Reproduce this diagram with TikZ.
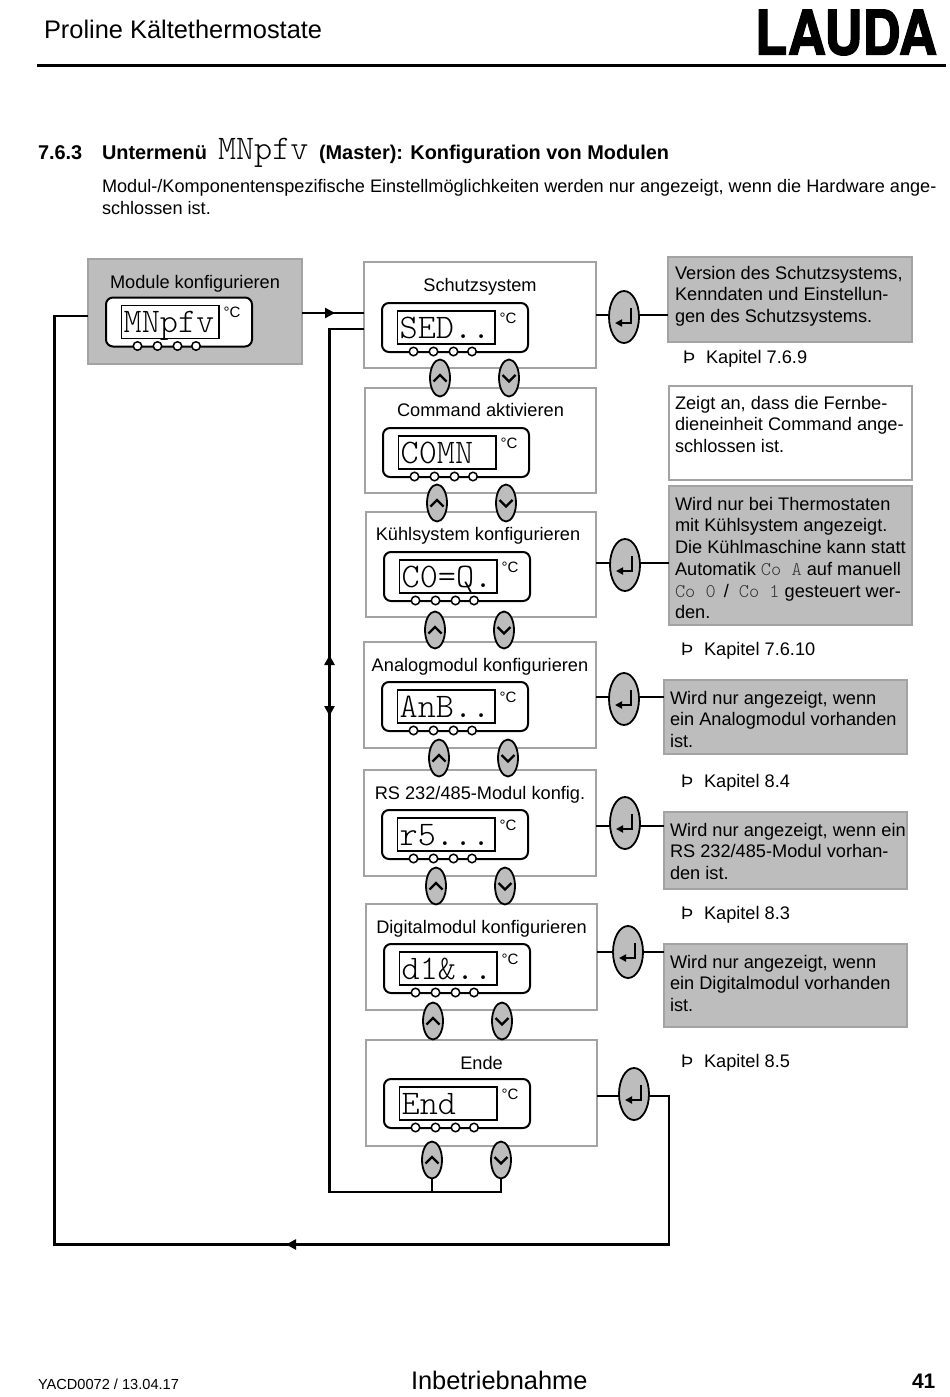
\documentclass[tikz,border=0pt]{standalone}
\usepackage{fontspec}
\setmainfont{Liberation Sans}
\usetikzlibrary{shapes.geometric,arrows.meta,calc}
\definecolor{panel}{HTML}{BDBDBD}
\definecolor{edge}{HTML}{A3A3A3}
\newfontfamily\logofont[FakeBold=2]{TeX Gyre Heros Bold}
\newfontfamily\lcdfamily{Latin Modern Mono Light}
\newcommand\bodyfont{\fontsize{18.2}{21.75}\selectfont}
\newcommand\headfont{\bfseries\fontsize{19.9}{20}\selectfont}
\newcommand\lcdfont{\fontsize{34.5}{35}\selectfont\lcdfamily}
\newcommand\lcdsmall[1]{{\fontsize{19.4}{20}\selectfont\lcdfamily\color{black!80}#1}}
\tikzset{
  txt/.style={inner sep=0pt,outer sep=0pt,anchor=base west,text=black,font=\bodyfont},
  notetxt/.style={inner sep=0pt,outer sep=0pt,anchor=north west,align=left,font=\bodyfont},
  titletxt/.style={inner sep=0pt,outer sep=0pt,anchor=base,font=\bodyfont},
  graybox/.style={draw=edge,fill=panel,line width=1.6pt,inner sep=0pt,outer sep=0pt},
  whitebox/.style={draw=edge,fill=white,line width=1.6pt,inner sep=0pt,outer sep=0pt},
  dispbox/.style={draw=black,fill=white,line width=2pt,rounded corners=7pt,inner sep=0pt,outer sep=0pt},
  lcdbox/.style={draw=black,line width=1.4pt,fill=white,inner sep=0pt,outer sep=0pt},
  led/.style={circle,draw=black,fill=white,line width=1.5pt,minimum size=8.5pt,inner sep=0pt},
  btn/.style={ellipse,draw=black,fill=panel,line width=1.8pt,minimum width=20pt,minimum height=37pt,inner sep=0pt,outer sep=0pt},
  enterbtn/.style={ellipse,draw=black,fill=panel,line width=1.8pt,minimum width=30pt,minimum height=52pt,inner sep=0pt,outer sep=0pt},
  wire/.style={draw=black,line width=2.2pt,line cap=butt,line join=miter},
  mainwire/.style={draw=black,line width=2.6pt,line join=miter},
  tip/.style={-{Triangle[length=10pt,width=10pt]}},
}
% name, x0, y0, x1, y1, style
\newcommand\rectnode[6]{%
  \pgfmathsetmacro\rw{(#4)-(#2)}\pgfmathsetmacro\rh{(#5)-(#3)}%
  \pgfmathsetmacro\rx{((#4)+(#2))/2}\pgfmathsetmacro\ry{((#5)+(#3))/2}%
  \node[#6,minimum width=\rw pt,minimum height=\rh pt] (#1) at (\rx,\ry) {};}
% name, x (left of display), y (top of display), text
\newcommand\dispunit[4]{%
  \rectnode{#1d}{#2}{#3}{#2+146}{#3+49}{dispbox}
  \rectnode{#1l}{#2+15.5}{#3+8}{#2+113}{#3+41}{lcdbox}
  \node[inner sep=0pt,anchor=base west,font=\lcdfont] (#1t) at ($(#2+17.5,#3+35)$) {#4};
  \node[inner sep=0pt,font=\fontsize{15}{15}\selectfont] (#1c) at ($(#2+126,#3+15)$) {°C};
  \node[led] (#1a) at ($(#2+31.5,#3+48.5)$) {};
  \node[led] (#1b) at ($(#2+51.5,#3+48.5)$) {};
  \node[led] (#1e) at ($(#2+71.5,#3+48.5)$) {};
  \node[led] (#1f) at ($(#2+90,#3+48.5)$) {};}
% name, x, y
\newcommand\upbtn[3]{\node[btn] (#1) at (#2,#3) {};
  \draw[line width=2.4pt,line join=miter] ($(#1)+(-6.5,3.5)$) -- ($(#1)+(0,-3)$) -- ($(#1)+(6.5,3.5)$);}
\newcommand\downbtn[3]{\node[btn] (#1) at (#2,#3) {};
  \draw[line width=2.4pt,line join=miter] ($(#1)+(-6.5,-3)$) -- ($(#1)+(0,3.5)$) -- ($(#1)+(6.5,-3)$);}
\newcommand\enterb[3]{\node[enterbtn] (#1) at (#2,#3) {};
  \draw[line width=1.8pt,-{Triangle[length=7pt,width=7pt]}] ($(#1)+(7,-9)$) -- ($(#1)+(7,6)$) -- ($(#1)+(-9,6)$);}
\newcommand\kapitel[4]{% name, x of sign, baseline y, text
  \node[txt] (#1s) at (#2,#3) {Þ};
  \node[txt] (#1k) at ($(#2+23,#3)$) {#4};}
\begin{document}
\begin{tikzpicture}[x=1pt,y=-1pt]
\useasboundingbox (0,0) rectangle (950,1397);
\fill[white] (0,0) rectangle (950,1397);
% header
\node[txt,font=\fontsize{25.4}{26}\selectfont] (headtitle) at (44,39) {Proline Kältethermostate};
\node[inner sep=0pt,anchor=center,font=\logofont\fontsize{60}{60}\selectfont] (logo) at (846,32.5) {\resizebox{182pt}{45pt}{LAUDA}};
\coordinate (ruleL) at (37,66); \coordinate (ruleR) at (946,66);
\draw[line width=3pt] (ruleL) -- (ruleR);
% heading
\node[txt,font=\headfont] (secnum) at (38,159) {7.6.3};
\node[txt,font=\headfont] (secuntermenu) at (102,159) {Untermenü};
\node[txt,font=\lcdfont] (secmn) at (218,159) {MNpfv};
\node[txt,font=\headfont] (secrest) at (319,159) {(Master): Konfiguration von Modulen};
\node[notetxt,font=\fontsize{18.13}{21.75}\selectfont] (intro) at (102,179.5) {Modul-/Komponentenspezifische Einstellmöglichkeiten werden nur angezeigt, wenn die Hardware ange-\\schlossen ist.};
% main boxes
\rectnode{mod}{88}{259}{302}{364}{graybox}
\rectnode{sch}{364}{262}{596}{368}{whitebox}
\rectnode{cmd}{365}{388}{596}{493}{whitebox}
\rectnode{kue}{366}{512}{596}{617}{whitebox}
\rectnode{ana}{364}{642}{596}{748}{whitebox}
\rectnode{rsm}{364}{770}{596}{876}{whitebox}
\rectnode{dig}{366}{904}{597}{1010}{whitebox}
\rectnode{end}{366}{1040}{597}{1146}{whitebox}
% note boxes
\rectnode{nA}{668}{257}{912}{342}{graybox}
\rectnode{nB}{669}{386}{912}{480}{whitebox}
\rectnode{nC}{669}{486}{912}{625}{graybox}
\rectnode{nD}{664}{680}{907}{754}{graybox}
\rectnode{nE}{664}{812}{907}{889}{graybox}
\rectnode{nF}{664}{944}{907}{1027}{graybox}
% titles
\node[titletxt] (tmod) at (195,288) {Module konfigurieren};
\node[titletxt] (tsch) at (480,291) {Schutzsystem};
\node[titletxt] (tcmd) at (480.5,416) {Command aktivieren};
\node[titletxt] (tkue) at (478,540) {Kühlsystem konfigurieren};
\node[titletxt] (tana) at (480,671) {Analogmodul konfigurieren};
\node[titletxt] (trsm) at (480,799) {RS 232/485-Modul konfig.};
\node[titletxt] (tdig) at (481.5,933) {Digitalmodul konfigurieren};
\node[titletxt] (tend) at (481.5,1069) {Ende};
% displays
\dispunit{dm}{106}{297.5}{MNpfv}
\dispunit{ds}{382}{303}{SED..}
\dispunit{dc}{383}{428}{C0MN}
\dispunit{dk}{384}{552}{C0=Q.}
\dispunit{da}{382}{682}{AnB..}
\dispunit{dr}{382}{810}{r5...}
\dispunit{dd}{384}{944}{d1\&..}
\dispunit{de}{384}{1079}{End}
% buttons
\upbtn{u1}{440}{378}\downbtn{v1}{509}{378}
\upbtn{u2}{437}{503}\downbtn{v2}{506}{503}
\upbtn{u3}{435}{630}\downbtn{v3}{504}{630}
\upbtn{u4}{439}{758}\downbtn{v4}{508}{758}
\upbtn{u5}{436}{886}\downbtn{v5}{505}{886}
\upbtn{u6}{433}{1021}\downbtn{v6}{502}{1021}
\upbtn{u7}{432}{1160}\downbtn{v7}{501}{1160}
\enterb{e1}{624}{317}
\enterb{e2}{625}{565}
\enterb{e3}{624}{699}
\enterb{e4}{625}{823}
\enterb{e5}{628}{952}
\enterb{e6}{634}{1094}
% connectors to enter buttons and notes
\coordinate (c1) at (624,315);
\coordinate (c2) at (625,563);
\coordinate (c3) at (624,697);
\coordinate (c4) at (625,826);
\coordinate (c5) at (628,952);
\coordinate (c6) at (634,1096);
\draw[wire] (sch.east |- c1) -- (e1.west |- c1) (e1.east |- c1) -- (nA.west |- c1);
\draw[wire] (kue.east |- c2) -- (e2.west |- c2) (e2.east |- c2) -- (nC.west |- c2);
\draw[wire] (ana.east |- c3) -- (e3.west |- c3) (e3.east |- c3) -- (nD.west |- c3);
\draw[wire] (rsm.east |- c4) -- (e4.west |- c4) (e4.east |- c4) -- (nE.west |- c4);
\draw[wire] (dig.east |- c5) -- (e5.west |- c5) (e5.east |- c5) -- (nF.west |- c5);
\draw[wire] (end.east |- c6) -- (e6.west |- c6);
% return from Ende to Module
\coordinate (retR) at (669,1096);
\coordinate (retB) at (669,1244.5);
\coordinate (retM) at (286,1244.5);
\coordinate (retL) at (54.5,1244.5);
\coordinate (retT) at (54.5,316);
\draw[mainwire] (e6.east |- c6) -- (retR) -- (retB) -- (retL) -- (retT) -- (mod.west |- retT);
\draw[mainwire,tip] (retB) -- (retM);
% Module to Schutzsystem
\coordinate (fw) at (335,313);
\draw[mainwire] (mod.east |- fw) -- (sch.west |- fw);
\draw[mainwire,tip] (mod.east |- fw) -- (fw);
% back line
\coordinate (bkT) at (329.5,329);
\coordinate (bkB) at (329.5,1192);
\coordinate (upT) at (329.5,655);
\coordinate (dnT) at (329.5,716);
\coordinate (bkM) at (329.5,685);
\draw[mainwire] (sch.west |- bkT) -- (bkT) -- (bkB) -| (v7.south);
\draw[mainwire,tip] (bkM) -- (upT);
\draw[mainwire,tip] (bkM) -- (dnT);
\draw[wire] (u7.south) -- (u7.south |- bkB);
% note texts
\node[notetxt] (xA) at (675,266) {Version des Schutzsystems,\\Kenndaten und Einstellun-\\gen des Schutzsystems.};
\node[notetxt] (xB) at (675,396) {Zeigt an, dass die Fernbe-\\dieneinheit Command ange-\\schlossen ist.};
\node[notetxt] (xC) at (675,497) {Wird nur bei Thermostaten\\mit Kühlsystem angezeigt.\\Die Kühlmaschine kann statt\\Automatik \lcdsmall{Co A} auf manuell\\\lcdsmall{Co 0}\hspace{3pt} / \hspace{5pt}\lcdsmall{Co 1} gesteuert wer-\\den.};
\node[notetxt] (xD) at (670,691) {Wird nur angezeigt, wenn\\ein Analogmodul vorhanden\\ist.};
\node[notetxt] (xE) at (670,823) {Wird nur angezeigt, wenn ein\\RS 232/485-Modul vorhan-\\den ist.};
\node[notetxt] (xF) at (670,955) {Wird nur angezeigt, wenn\\ein Digitalmodul vorhanden\\ist.};
\kapitel{ka}{683}{363}{Kapitel 7.6.9}
\kapitel{kb}{681}{655}{Kapitel 7.6.10}
\kapitel{kc}{681}{787}{Kapitel 8.4}
\kapitel{kd}{681}{919}{Kapitel 8.3}
\kapitel{ke}{681}{1067}{Kapitel 8.5}
% footer
\node[txt,font=\fontsize{14.6}{15}\selectfont] (fa) at (38,1389) {YACD0072 / 13.04.17};
\node[txt,font=\fontsize{25.4}{27}\selectfont] (fb) at (411,1389) {Inbetriebnahme};
\node[txt,font=\bfseries\fontsize{21}{22}\selectfont] (fc) at (912,1388) {41};
\end{tikzpicture}
\end{document}
